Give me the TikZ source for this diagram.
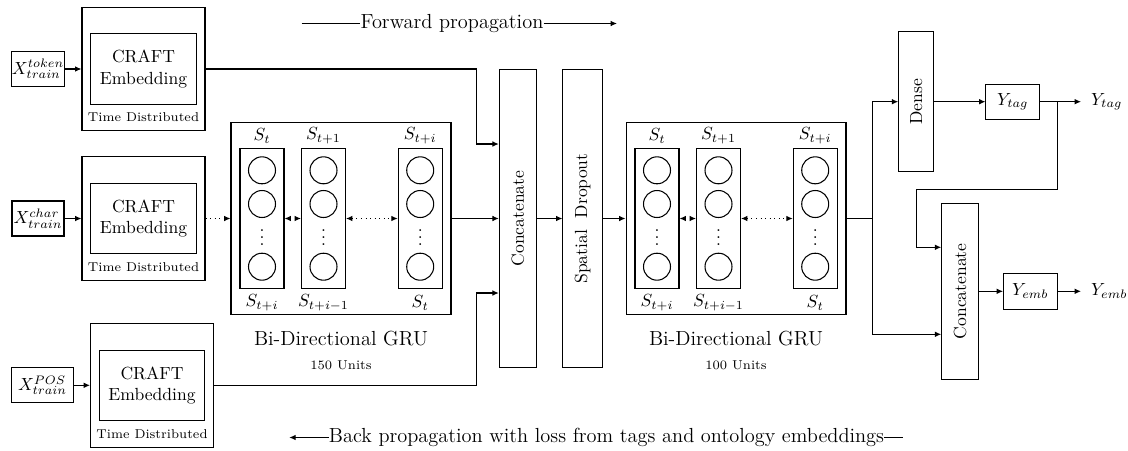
\documentclass[tikz,border=0pt]{standalone}
\usetikzlibrary{arrows.meta,positioning,calc}

\begin{document}
\begin{tikzpicture}[x=0.02cm,y=-0.02cm,
  box/.style={draw,line width=0.6pt,inner sep=0pt,align=center},
  xbox/.style={box,minimum width=1.04cm,minimum height=0.70cm},
  tdbox/.style={box,minimum width=2.46cm,minimum height=2.47cm},
  craftbox/.style={box,minimum width=2.11cm,minimum height=1.41cm},
  ybox/.style={box,minimum width=1.07cm,minimum height=0.70cm},
  wire/.style={line width=0.6pt},
  conn/.style={wire,-{Latex[length=3.6pt,width=3.2pt]}},
  dotconn/.style={conn,dotted},
  dotboth/.style={wire,dotted,{Latex[length=3.6pt,width=3.2pt]}-{Latex[length=3.6pt,width=3.2pt]}},
  neuron/.style={circle,draw,line width=0.6pt,minimum size=0.54cm,inner sep=0pt},
  bigtext/.style={font=\fontsize{11.6}{14}\selectfont},
  smalltext/.style={font=\fontsize{7.3}{9}\selectfont},
  outlbl/.style={anchor=west,inner sep=5.5pt},
]

  \useasboundingbox (0,0) rectangle (1128,450);

  % ---- Propagation directions --------------------------------
  \node[bigtext,inner sep=0pt] (fwd) at (452,23.5) {Forward propagation};
  \coordinate (fwdstart) at (301.7,23.5);
  \coordinate (fwdend)   at (617,23.5);
  \draw[wire] (fwdstart) -- (fwd);
  \draw[conn] (fwd) -- (fwdend);

  \node[bigtext,inner sep=0pt] (back) at (606.5,437.5)
    {Back propagation with loss from tags and ontology embeddings};
  \coordinate (backend)  at (289.3,437.5);
  \coordinate (backtail) at (903.3,437.5);
  \draw[conn] (back) -- (backend);
  \draw[wire] (back) -- (backtail);

  % ---- Inputs and time distributed embeddings ----------------
  \node[xbox] (xtok)  at (38,69)     {$X^{token}_{train}$};
  \node[xbox] (xchar) at (38,218.5)  {$X^{char}_{train}$};
  \node[xbox,minimum width=1.23cm] (xpos) at (42.5,385.3) {$X^{POS}_{train}$};

  \node[tdbox] (tdtok)  at (143.5,69)    {};
  \node[tdbox] (tdchar) at (143.5,218.5) {};
  \node[tdbox] (tdpos)  at (152,385.3)   {};

  \node[craftbox] (crafttok)  at (143.5,69)    {CRAFT\\Embedding};
  \node[craftbox] (craftchar) at (143.5,218.5) {CRAFT\\Embedding};
  \node[craftbox] (craftpos)  at (152,385.3)   {CRAFT\\Embedding};

  \node[smalltext] (tdtoklbl)  at (143.5,117.5) {Time Distributed};
  \node[smalltext] (tdcharlbl) at (143.5,267)   {Time Distributed};
  \node[smalltext] (tdposlbl)  at (152,434)     {Time Distributed};

  \draw[conn] (xtok)  -- (tdtok);
  \draw[conn] (xchar) -- (tdchar);
  \draw[conn] (xpos)  -- (tdpos);

  % ---- Bi-directional GRU blocks -----------------------------
  \foreach \g/\dx/\units in {a/0/150,b/395/100} {
    \node[box,minimum width=4.4cm,minimum height=3.85cm] (gru\g) at (341+\dx,218.5) {};
    \foreach \c/\cx/\toplbl/\botlbl in {1/262/{S_t}/{S_{t+i}},2/323.5/{S_{t+1}}/{S_{t+i-1}},3/420.2/{S_{t+i}}/{S_t}} {
      \node[box,minimum width=0.88cm,minimum height=2.8cm] (gru\g\c) at (\cx+\dx,218.5) {};
      \node (gru\g\c t) at (\cx+\dx,136)   {$\toplbl$};
      \node (gru\g\c b) at (\cx+\dx,302.7) {$\botlbl$};
      \foreach \cy [count=\k] in {170.3,204,266.7}
        \node[neuron] (gru\g\c n\k) at (\cx+\dx,\cy) {};
      \node[inner sep=0pt] (gru\g\c v) at (\cx+\dx,232.5) {$\vdots$};
    }
    \draw[dotboth] (gru\g1) -- (gru\g2);
    \draw[dotboth] (gru\g2) -- (gru\g3);
    \node[bigtext] (gru\g name)  at (341+\dx,339)   {Bi-Directional GRU};
    \node[smalltext] (gru\g units) at (341+\dx,365.5) {\units\ Units};
  }

  % ---- Concatenate and dropout -------------------------------
  \node[box,minimum width=0.74cm,minimum height=5.96cm,
    label={[rotate=90]center:Concatenate}] (cata) at (517.8,218.5) {};
  \node[box,minimum width=0.79cm,minimum height=5.96cm,
    label={[rotate=90]center:Spatial\ \ Dropout}] (drop) at (582.7,218.5) {};

  \draw[dotconn] (tdchar) -- (grua);
  \draw[conn] (tdtok) -| ($(cata.west)+(-22.6,-74.5)$) -- ($(cata.west)+(0,-74.5)$);
  \draw[conn] (grua) -- (cata);
  \draw[conn] (tdpos) -| ($(cata.west)+(-22.6,74.5)$) -- ($(cata.west)+(0,74.5)$);
  \draw[conn] (cata) -- (drop);
  \draw[conn] (drop) -- (grub);

  % ---- Output heads ------------------------------------------
  \node[box,minimum width=0.70cm,minimum height=2.81cm,
    label={[rotate=90]center:Dense}] (dense) at (916.2,101.7) {};
  \node[box,minimum width=0.74cm,minimum height=3.51cm,
    label={[rotate=90]center:Concatenate}] (catb) at (960.2,291.3) {};
  \node[ybox] (ytag) at (1012.7,101.7) {$Y_{tag}$};
  \node[ybox,minimum height=0.72cm] (yemb) at (1030.3,291.3) {$Y_{emb}$};
  \node[outlbl] (ytagout) at (1081,101.7) {$Y_{tag}$};
  \node[outlbl] (yembout) at (1081,291.3) {$Y_{emb}$};

  \coordinate (split) at (872.5,218.5);
  \draw[wire] (grub) -- (split);
  \draw[conn] (split) |- (dense);
  \draw[conn] (split) |- ($(catb.west)+(0,43)$);
  \draw[conn] (dense) -- (ytag);
  \draw[conn] (ytag) -- (ytagout);

  % tag prediction fed back into the embedding head
  \coordinate (tagturn) at (1057.3,189.7);
  \coordinate (tagdrop) at (916.3,247.3);
  \draw[conn] (ytag.east) -| (tagturn) -| (tagdrop) -- (tagdrop -| catb.west);

  \draw[conn] (catb) -- (yemb);
  \draw[conn] (yemb) -- (yembout);

\end{tikzpicture}
\end{document}
